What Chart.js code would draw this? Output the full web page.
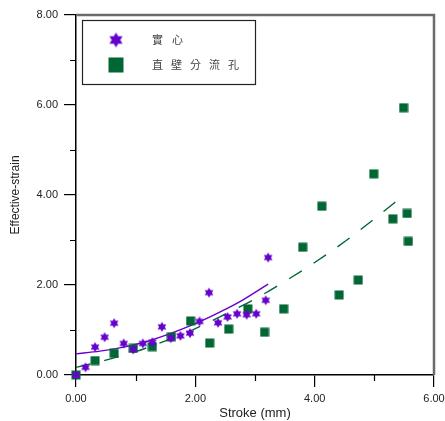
<!DOCTYPE html>
<html>
<head>
<meta charset="utf-8">
<script src="https://cdn.jsdelivr.net/npm/chart.js@4"></script>
<style>
  body { margin: 0; background: #fff; }
  canvas { display: block; }
</style>
</head>
<body>
<canvas id="strainChart" width="445" height="421"></canvas>
<script>
// ---------------------------
// DATA
// ---------------------------
const solidX = [0, 0.16, 0.32, 0.48, 0.64, 0.80, 0.96, 1.12, 1.28, 1.44, 1.59, 1.75, 1.91, 2.07, 2.23, 2.38, 2.54, 2.70, 2.86, 3.02, 3.18, 3.22];
const solidY = [0, 0.17, 0.62, 0.84, 1.15, 0.70, 0.57, 0.70, 0.73, 1.07, 0.82, 0.87, 0.93, 1.19, 1.83, 1.16, 1.29, 1.36, 1.34, 1.36, 1.66, 2.61];

const holeX = [0, 0.32, 0.64, 0.96, 1.28, 1.60, 1.92, 2.24, 2.56, 2.88, 3.16, 3.48, 3.80, 4.12, 4.41, 4.73, 4.99, 5.31, 5.49, 5.55, 5.57];
const holeY = [0, 0.32, 0.48, 0.59, 0.63, 0.85, 1.20, 0.71, 1.02, 1.47, 0.95, 1.47, 2.84, 3.75, 1.78, 2.11, 4.47, 3.47, 5.94, 3.59, 2.97];

// trend lines
const solidFitX = [0, 0.4, 0.8, 1.2, 1.6, 2.0, 2.4, 2.8, 3.22];
const solidFitY = [0.47, 0.53, 0.62, 0.75, 0.93, 1.14, 1.39, 1.67, 2.02];
const holeFitX = [0, 0.5, 1.0, 1.5, 2.0, 2.5, 3.0, 3.5, 4.0, 4.5, 5.0, 5.5];
const holeFitY = [0.17, 0.33, 0.52, 0.76, 1.03, 1.35, 1.69, 2.08, 2.50, 2.96, 3.47, 4.00];

const legendLabels = ["實心", "直壁分流孔"];
const xMinorTicks = [1, 3, 5];
const yMinorTicks = [1, 3, 5, 7];

const PURPLE = "#6600cc";
const GREEN = "#006633";
const FONT = "'Liberation Sans', Arial, sans-serif";

// ---------------------------
// MARKERS
// ---------------------------
function makeStar(r, color) {
  const size = Math.ceil(r * 2) + 2;
  const c = document.createElement("canvas");
  c.width = size; c.height = size;
  const g = c.getContext("2d");
  g.fillStyle = color;
  g.beginPath();
  for (const start of [-90, 90]) {
    for (let i = 0; i < 3; i++) {
      const a = (start + i * 120) * Math.PI / 180;
      const px = size / 2 + r * Math.cos(a), py = size / 2 + r * Math.sin(a);
      if (i === 0) g.moveTo(px, py); else g.lineTo(px, py);
    }
    g.closePath();
  }
  g.fill();
  return c;
}

function makeSquare(side, color) {
  const size = side + 1;
  const c = document.createElement("canvas");
  c.width = size; c.height = size;
  const g = c.getContext("2d");
  g.fillStyle = color;
  g.fillRect(0.5, 0.5, side, side);
  return c;
}

const starImg = makeStar(5, PURPLE);
const squareImg = makeSquare(9, GREEN);

const pts = (xs, ys) => xs.map((x, i) => ({ x: x, y: ys[i] }));

// ---------------------------
// EXTRA DRAWING (frame, minor ticks, legend)
// ---------------------------
const decorations = {
  id: "decorations",
  afterDraw(chart) {
    const ctx = chart.ctx;
    const a = chart.chartArea;
    const xs = chart.scales.x, ys = chart.scales.y;
    ctx.save();

    // gray frame top + right
    ctx.strokeStyle = "#6b6b6b";
    ctx.lineWidth = 2.5;
    ctx.beginPath();
    ctx.moveTo(a.left, a.top);
    ctx.lineTo(a.right, a.top);
    ctx.lineTo(a.right, a.bottom);
    ctx.stroke();

    // minor ticks
    ctx.strokeStyle = "#000";
    ctx.lineWidth = 1.2;
    ctx.beginPath();
    yMinorTicks.forEach(v => {
      const y = Math.round(ys.getPixelForValue(v)) + 0.5;
      ctx.moveTo(a.left - 6, y);
      ctx.lineTo(a.left, y);
    });
    xMinorTicks.forEach(v => {
      const x = Math.round(xs.getPixelForValue(v)) + 0.5;
      ctx.moveTo(x, a.bottom);
      ctx.lineTo(x, a.bottom + 6);
    });
    ctx.stroke();

    // legend
    ctx.fillStyle = "#fff";
    ctx.fillRect(82, 20, 173, 64);
    ctx.strokeStyle = "#222";
    ctx.lineWidth = 1.2;
    ctx.strokeRect(82.5, 20.5, 173, 64);

    const bigStar = makeStar(7.5, PURPLE);
    ctx.drawImage(bigStar, 116 - bigStar.width / 2, 40 - bigStar.height / 2);
    ctx.fillStyle = GREEN;
    ctx.fillRect(108.5, 57.5, 15, 15);

    ctx.fillStyle = "#444";
    ctx.font = "11px 'Noto Sans CJK TC', 'Noto Sans CJK SC', sans-serif";
    ctx.textBaseline = "middle";
    ctx.textAlign = "left";
    Array.from(legendLabels[0]).forEach((ch, i) => ctx.fillText(ch, 152 + i * 20, 40));
    Array.from(legendLabels[1]).forEach((ch, i) => ctx.fillText(ch, 152 + i * 19, 65));

    ctx.restore();
  }
};

// ---------------------------
// CHART
// ---------------------------
new Chart(document.getElementById("strainChart"), {
  type: "scatter",
  data: {
    datasets: [
      {
        label: legendLabels[0],
        data: pts(solidX, solidY),
        pointStyle: starImg,
        pointRadius: 5,
        pointHoverRadius: 5,
        clip: false,
        order: 0
      },
      {
        label: legendLabels[1],
        data: pts(holeX, holeY),
        pointStyle: squareImg,
        pointRadius: 5,
        pointHoverRadius: 5,
        clip: false,
        order: 1
      },
      {
        label: "fit1",
        data: pts(solidFitX, solidFitY),
        showLine: true,
        borderColor: PURPLE,
        borderWidth: 1.4,
        pointRadius: 0,
        cubicInterpolationMode: "monotone",
        order: 2
      },
      {
        label: "fit2",
        data: pts(holeFitX, holeFitY),
        showLine: true,
        borderColor: GREEN,
        borderWidth: 1.4,
        borderDash: [15, 14],
        pointRadius: 0,
        cubicInterpolationMode: "monotone",
        order: 3
      }
    ]
  },
  options: {
    responsive: false,
    animation: false,
    layout: { padding: { top: 15, right: 11, left: 0, bottom: 0 } },
    plugins: { legend: { display: false }, tooltip: { enabled: false } },
    scales: {
      x: {
        type: "linear",
        min: 0, max: 6,
        ticks: {
          stepSize: 2, autoSkip: false, maxRotation: 0, padding: 5,
          color: "#222", font: { family: FONT, size: 11 },
          callback: v => v.toFixed(2)
        },
        grid: { drawOnChartArea: false, tickLength: 12, color: "#000", lineWidth: 1.2 },
        border: { color: "#000", width: 1.5 },
        title: {
          display: true, text: "Stroke (mm)", color: "#222",
          font: { family: FONT, size: 13 }, padding: { top: 0, bottom: 0 }
        },
        afterFit(s) { s.height = 46; s.paddingLeft = 0; s.paddingRight = 0; }
      },
      y: {
        type: "linear",
        min: 0, max: 8,
        ticks: {
          stepSize: 2, autoSkip: false, padding: 6,
          color: "#222", font: { family: FONT, size: 11 },
          callback: v => v.toFixed(2)
        },
        grid: { drawOnChartArea: false, tickLength: 12, color: "#000", lineWidth: 1.2 },
        border: { color: "#000", width: 1.5 },
        title: {
          display: true, text: "Effective-strain", color: "#222",
          font: { family: FONT, size: 12 }, padding: { top: 8, bottom: 0 }
        },
        afterFit(s) { s.width = 76; s.paddingTop = 0; s.paddingBottom = 0; }
      }
    }
  },
  plugins: [decorations]
});
</script>
</body>
</html>
